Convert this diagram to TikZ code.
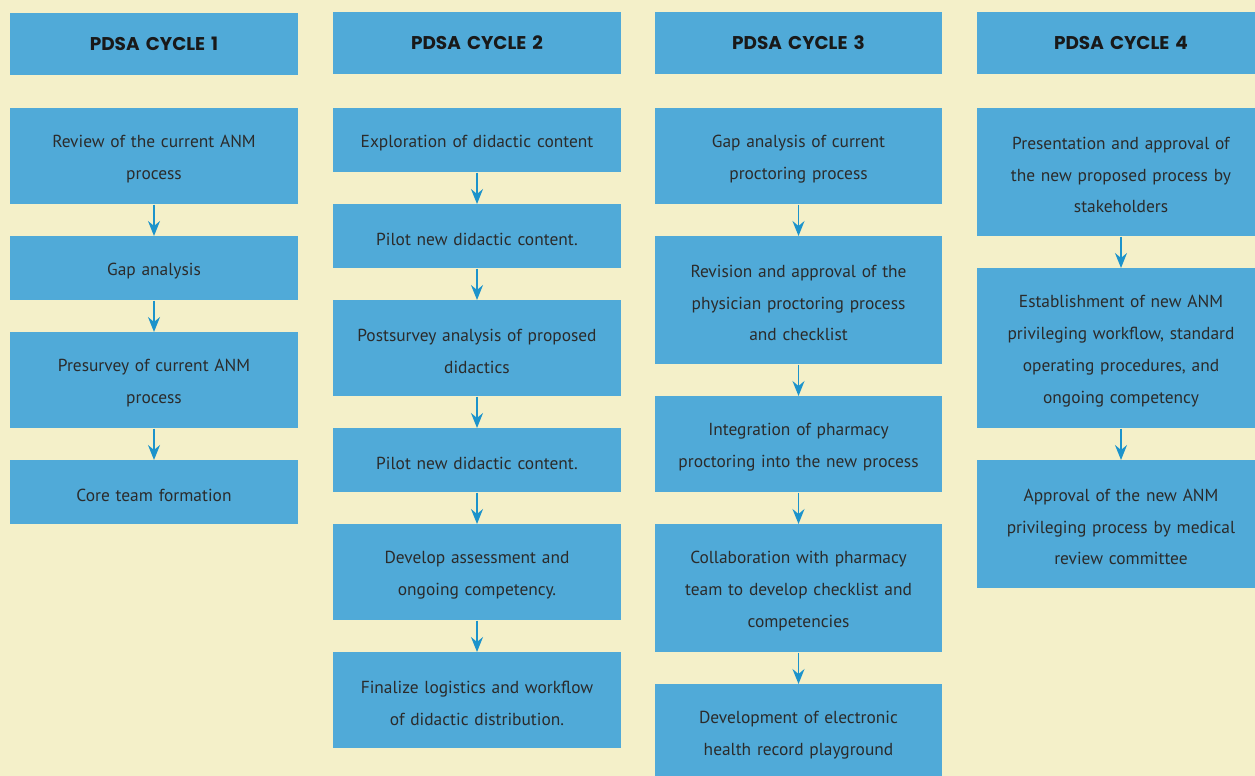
\documentclass[tikz,border=0pt]{standalone}
\usepackage{fontspec}
\setmainfont{PT Sans}
\newfontfamily\headfont{Poppins}
\usetikzlibrary{arrows.meta}

\definecolor{bgcream}{HTML}{F4F0C9}
\definecolor{boxblue}{HTML}{50AAD8}
\definecolor{arrowblue}{HTML}{1C93CB}
\definecolor{textgray}{HTML}{2B2B2B}

\tikzset{
    stagebox/.style={rectangle, fill=boxblue, anchor=north, inner sep=0pt,
        minimum width=5.76cm, text width=5.3cm, align=center, text=textgray,
        font=\fontsize{9.9}{18.2}\selectfont,
        execute at begin node={\rule{0pt}{10pt}}},
    cyclehead/.style={stagebox, minimum height=1.24cm, text=black!90,
        font=\headfont\bfseries\fontsize{10.5}{12}\selectfont,
        execute at begin node={\rule[-2.5pt]{0pt}{2.5pt}}},
    onerow/.style={minimum height=1.28cm},
    tworow/.style={minimum height=1.92cm},
    threerow/.style={minimum height=2.56cm},
    fourrow/.style={minimum height=3.2cm},
    flow/.style={arrowblue, line width=0.8pt, -{Stealth[length=0.3cm,width=0.24cm,inset=0.1cm]}}
}

\begin{document}
\begin{tikzpicture}[x=0.02cm,y=-0.02cm]
    \useasboundingbox (0,0) rectangle (1255,776);
    \clip (0,0) rectangle (1255,776);
    \fill[bgcream] (0,0) rectangle (1255,776);

    % Headers
    \node[cyclehead] (H1) at (154,13) {PDSA CYCLE 1};
    \node[cyclehead] (H2) at (477,12) {PDSA CYCLE 2};
    \node[cyclehead] (H3) at (798.5,12) {PDSA CYCLE 3};
    \node[cyclehead] (H4) at (1121,12) {PDSA CYCLE 4};

    % Cycle 1
    \node[stagebox, tworow] (A1) at (154,108) {Review of the current ANM\\process};
    \node[stagebox, onerow] (A2) at (154,236) {Gap analysis};
    \node[stagebox, tworow] (A3) at (154,332) {Presurvey of current ANM\\process};
    \node[stagebox, onerow] (A4) at (154,460) {Core team formation};

    % Cycle 2
    \node[stagebox, onerow] (B1) at (477,108) {Exploration of didactic content};
    \node[stagebox, onerow] (B2) at (477,204) {Pilot new didactic content.};
    \node[stagebox, tworow] (B3) at (477,300) {Postsurvey analysis of proposed\\didactics};
    \node[stagebox, onerow] (B4) at (477,428) {Pilot new didactic content.};
    \node[stagebox, tworow] (B5) at (477,524) {Develop assessment and\\ongoing competency.};
    \node[stagebox, tworow] (B6) at (477,652) {Finalize logistics and workflow\\of didactic distribution.};

    % Cycle 3
    \node[stagebox, tworow] (C1) at (798.5,108) {Gap analysis of current\\proctoring process};
    \node[stagebox, threerow] (C2) at (798.5,236) {Revision and approval of the\\physician proctoring process\\and checklist};
    \node[stagebox, tworow] (C3) at (798.5,396) {Integration of pharmacy\\proctoring into the new process};
    \node[stagebox, threerow] (C4) at (798.5,524) {Collaboration with pharmacy\\team to develop checklist and\\competencies};
    \node[stagebox, tworow] (C5) at (798.5,684) {Development of electronic\\health record playground};

    % Cycle 4
    \node[stagebox, threerow] (D1) at (1121,108) {Presentation and approval of\\the new proposed process by\\stakeholders};
    \node[stagebox, fourrow] (D2) at (1121,268) {Establishment of new ANM\\privileging workflow, standard\\operating procedures, and\\ongoing competency};
    \node[stagebox, threerow] (D3) at (1121,460) {Approval of the new ANM\\privileging process by medical\\review committee};

    % Arrows
    \foreach \source/\target in {A1/A2, A2/A3, A3/A4,
            B1/B2, B2/B3, B3/B4, B4/B5, B5/B6,
            C1/C2, C2/C3, C3/C4, C4/C5,
            D1/D2, D2/D3} {
            \draw[flow] (\source.south) -- (\target.north);
        }
\end{tikzpicture}
\end{document}
